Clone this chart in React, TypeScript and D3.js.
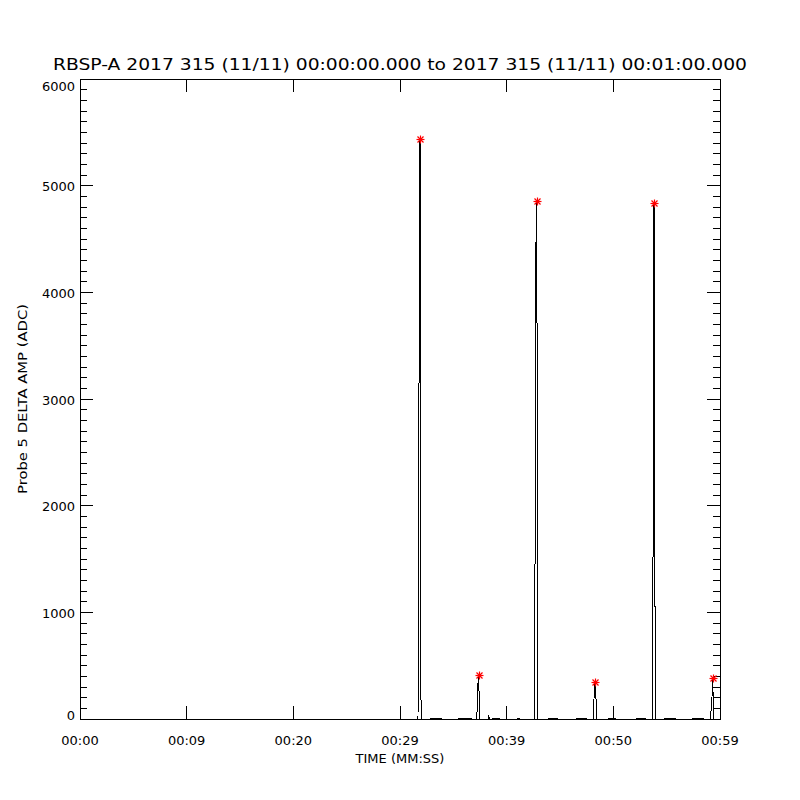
import React from "react";
import * as d3 from "d3";

// ---- data (seconds from 00:00:00, amplitude in ADC) ----
const sampleTime: number[] = [
  0, 31.6875, 31.75, 31.8125, 31.875, 31.9375, 32.0,
  32.8125, 32.875, 33.8125, 33.875,
  35.5, 35.5625, 36.6875, 36.75,
  37.1875, 37.25, 37.3125, 37.375, 37.4375, 37.5,
  38.25, 38.3125, 38.375,
  38.625, 38.6875, 39.3125, 39.375,
  41.0, 41.0625, 41.1875, 41.25,
  42.5625, 42.625, 42.6875, 42.75, 42.8125, 42.875, 42.9375,
  43.875, 43.9375, 44.75, 44.8125,
  46.5, 46.5625, 47.4375, 47.5,
  48.125, 48.1875, 48.25, 48.3125, 48.375, 48.4375,
  49.5, 49.5625, 50.125, 50.1875,
  52.125, 52.1875, 53.0, 53.0625,
  53.625, 53.6875, 53.75, 53.8125, 53.875, 53.9375,
  54.75, 54.8125, 55.8125, 55.875,
  57.4375, 57.5, 58.4375, 58.5,
  59.125, 59.1875, 59.25, 59.3125, 59.375, 59.4375,
  60,
];
const amplitude: number[] = [
  0, 0, 1700, 4400, 5440, 385, 0,
  0, 9, 9, 0,
  0, 9, 9, 0,
  0, 131, 340, 410, 130, 0,
  0, 40, 0,
  0, 9, 9, 0,
  0, 9, 9, 0,
  0, 120, 2600, 4470, 4860, 2600, 0,
  0, 9, 9, 0,
  0, 9, 9, 0,
  0, 190, 325, 350, 190, 0,
  0, 9, 9, 0,
  0, 9, 9, 0,
  0, 225, 2650, 4840, 2180, 0,
  0, 9, 9, 0,
  0, 9, 9, 0,
  0, 140, 206, 385, 140, 0,
  0,
];
const peakTime: number[] = [31.875, 37.375, 42.8125, 48.3125, 53.8125, 59.3125];
const peakAmp: number[] = [5440, 410, 4860, 350, 4840, 385];

const xTickValues: number[] = [0, 10, 20, 30, 40, 50, 60];
const xTickLabels: string[] = ["00:00", "00:09", "00:20", "00:29", "00:39", "00:50", "00:59"];
const yTickValues: number[] = [0, 1000, 2000, 3000, 4000, 5000, 6000];
const yTickLabels: string[] = ["0", "1000", "2000", "3000", "4000", "5000", "6000"];

const titleText = "RBSP-A 2017 315 (11/11) 00:00:00.000 to 2017 315 (11/11) 00:01:00.000";
const xTitle = "TIME (MM:SS)";
const yTitle = "Probe 5 DELTA AMP (ADC)";

const W = 800;
const H = 800;
const L = 80, R = 720, T = 79, B = 719;
const FONT = "'DejaVu Sans', sans-serif";

export default function App() {
  const x = d3.scaleLinear().domain([0, 60]).range([L, R]);
  const y = d3.scaleLinear().domain([0, 6000]).range([B, T]);
  const pts: [number, number][] = sampleTime.map((t, i) => [t, amplitude[i]]);
  const line = d3
    .line<[number, number]>()
    .x((d) => x(d[0]))
    .y((d) => y(d[1]));
  const minorY = d3.range(0, 6001, 100);
  const majorLen = 13;
  const minorLen = 7;

  return (
    <svg
      width={W}
      height={H}
      style={{ position: "absolute", left: 0, top: 0, background: "#fff" }}
      xmlns="http://www.w3.org/2000/svg"
    >
      <rect x={0} y={0} width={W} height={H} fill="#fff" />
      <text
        x={400}
        y={70}
        textAnchor="middle"
        fontFamily={FONT}
        fontSize={16}
        textLength={694}
        lengthAdjust="spacingAndGlyphs"
        fill="#000"
      >
        {titleText}
      </text>

      {/* data line */}
      <path
        d={line(pts) || ""}
        fill="none"
        stroke="#000"
        strokeWidth={1}
        shapeRendering="crispEdges"
      />

      {/* frame */}
      <g stroke="#000" strokeWidth={1} shapeRendering="crispEdges" fill="none">
        <rect x={L} y={T} width={R - L} height={B - T} />
        {minorY.map((v) => {
          const len = v % 1000 === 0 ? majorLen : minorLen;
          return (
            <g key={"y" + v}>
              <line x1={L} x2={L + len} y1={y(v)} y2={y(v)} />
              <line x1={R} x2={R - len} y1={y(v)} y2={y(v)} />
            </g>
          );
        })}
        {xTickValues.map((v) => (
          <g key={"x" + v}>
            <line x1={x(v)} x2={x(v)} y1={B} y2={B - majorLen} />
            <line x1={x(v)} x2={x(v)} y1={T} y2={T + majorLen} />
          </g>
        ))}
      </g>

      {/* peak markers */}
      <g stroke="#ff0000" strokeWidth={1.2}>
        {peakTime.map((t, i) => {
          const cx = Math.round(x(t)) + 0.5;
          const cy = Math.round(y(peakAmp[i])) + 0.5;
          const r = 4;
          const d = 3;
          return (
            <g key={"p" + i}>
              <line x1={cx - r} x2={cx + r} y1={cy} y2={cy} />
              <line x1={cx} x2={cx} y1={cy - r} y2={cy + r} />
              <line x1={cx - d} x2={cx + d} y1={cy - d} y2={cy + d} />
              <line x1={cx - d} x2={cx + d} y1={cy + d} y2={cy - d} />
            </g>
          );
        })}
      </g>

      {/* tick labels */}
      <g fontFamily={FONT} fontSize={13} fill="#000">
        {yTickValues.map((v, i) => {
          const cy = Math.min(Math.max(y(v) + 1, T + 7), B - 4);
          return (
            <text key={"yl" + v} x={75} y={cy} dy="0.36em" textAnchor="end">
              {yTickLabels[i]}
            </text>
          );
        })}
        {xTickValues.map((v, i) => (
          <text key={"xl" + v} x={x(v)} y={745} textAnchor="middle">
            {xTickLabels[i]}
          </text>
        ))}
        <text x={400} y={763} textAnchor="middle" fontSize={13}>
          {xTitle}
        </text>
        <text
          transform="translate(27,399) rotate(-90)"
          textAnchor="middle"
          fontSize={12}
          textLength={190}
          lengthAdjust="spacingAndGlyphs"
        >
          {yTitle}
        </text>
      </g>
    </svg>
  );
}
